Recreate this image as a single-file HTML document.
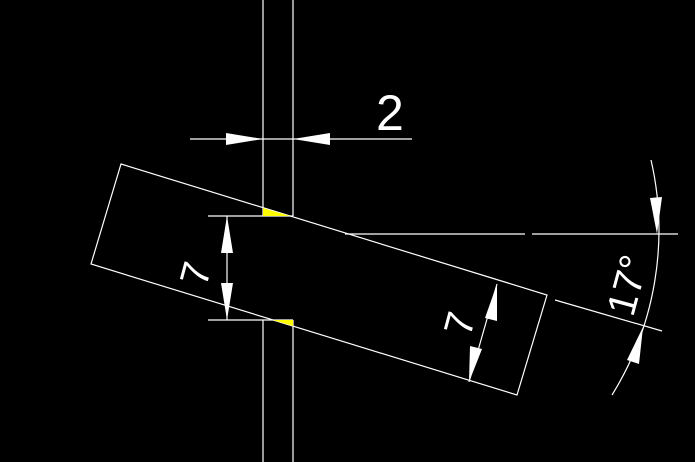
<!DOCTYPE html>
<html><head><style>html,body{margin:0;padding:0;background:#000;}svg{display:block}</style></head>
<body>
<svg width="695" height="462" viewBox="0 0 695 462" xmlns="http://www.w3.org/2000/svg">
<rect width="695" height="462" fill="#000"/>
<g stroke="#fff" stroke-width="1.2" fill="none">
<line x1="263" y1="0" x2="263" y2="216"/>
<line x1="293" y1="0" x2="293" y2="216"/>
<line x1="263" y1="320" x2="263" y2="462"/>
<line x1="293" y1="320" x2="293" y2="462"/>
<polygon points="121,164 547,295 517,395 91,264"/>
<line x1="190" y1="139" x2="412" y2="139"/>
<line x1="208" y1="216" x2="293" y2="216"/>
<line x1="208" y1="320" x2="293" y2="320"/>
<line x1="227" y1="216" x2="227" y2="320"/>
<line x1="497" y1="284" x2="469" y2="382"/>
<line x1="345" y1="234" x2="525" y2="234"/>
<line x1="532" y1="234" x2="678" y2="234"/>
<line x1="555" y1="300" x2="662" y2="331"/>
<path d="M651,160 A313,313 0 0 1 612,395"/>
</g>
<g fill="#fff">
<polygon points="263,139 226,133 226,145"/>
<polygon points="293,139 330,133 330,145"/>
<polygon points="227,216 221,253 233,253"/>
<polygon points="227,320 221,283 233,283"/>
<polygon points="497,284 485,318 497,321"/>
<polygon points="469,382 470,346 482,349"/>
<polygon points="657,234 650,198 662,197"/>
<polygon points="643,327 627,360 639,364"/>
</g>
<g fill="#ff0">
<polygon points="263,208 263,216 290,216"/>
<polygon points="273,320 293,320 293,326"/>
</g>
<g fill="#fff" font-family="Liberation Sans, sans-serif">
<text x="376" y="130" font-size="50">2</text>
<text x="0" y="0" font-size="40" transform="translate(206,288) rotate(-75)">7</text>
<text x="0" y="0" font-size="40" transform="translate(470,338) rotate(-75)">7</text>
<text x="0" y="0" font-size="40" transform="translate(633,318) rotate(-75)">17°</text>
</g>
</svg>
</body></html>
